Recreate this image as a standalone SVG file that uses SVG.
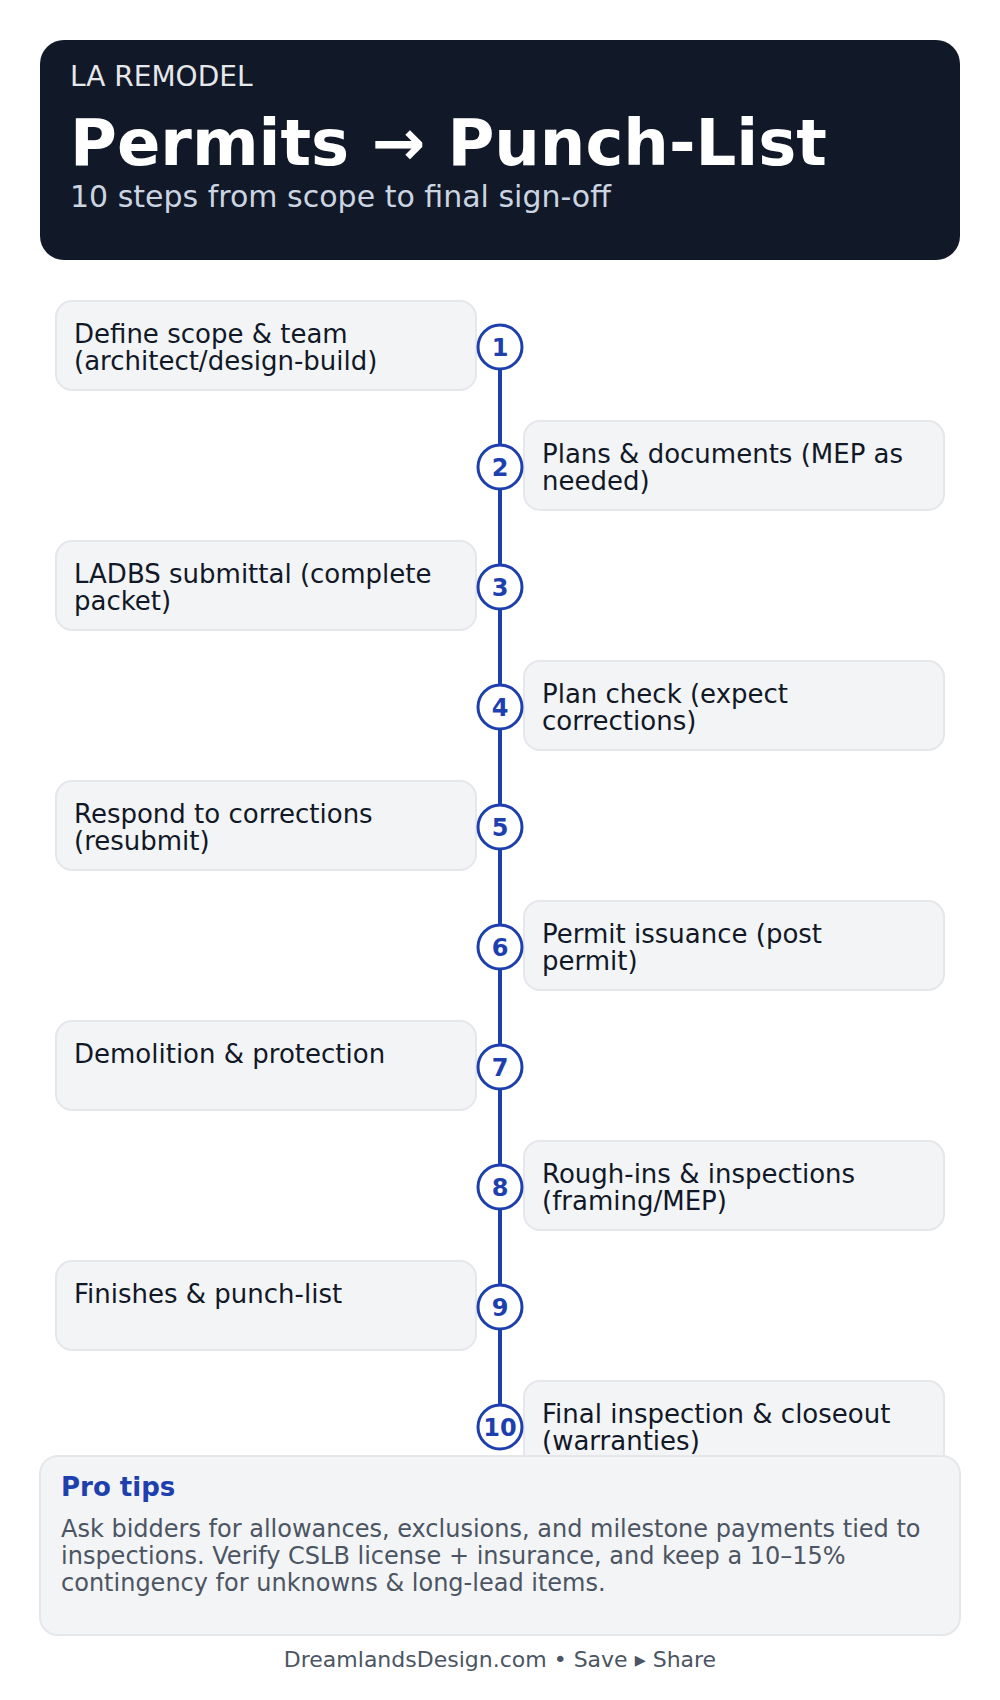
<svg xmlns="http://www.w3.org/2000/svg" width="1000" height="1700" viewBox="0 0 1000 1700">
<style>
text{font-family:"DejaVu Sans","Liberation Sans",sans-serif}
.card{fill:#f3f4f6;stroke:#e5e7eb;stroke-width:2}
.st{font-size:26px;fill:#111827}
.dot{fill:#ffffff;stroke:#1e40af;stroke-width:3}
.num{font-size:24px;font-weight:bold;fill:#1e40af;text-anchor:middle}
.tip{font-size:24px;fill:#4b5563}
</style>
<rect width="1000" height="1700" fill="#ffffff"/>
<g id="header">
<rect x="40" y="40" width="920" height="220" rx="24" fill="#111827"/>
<text x="70" y="86" font-size="28" fill="#e5e7eb">LA REMODEL</text>
<text x="70" y="165" font-size="64" font-weight="bold" fill="#ffffff">Permits → Punch-List</text>
<text x="70" y="207" font-size="30" fill="#cbd5e1">10 steps from scope to final sign-off</text>
</g>
<g id="connectors">
<line x1="500" y1="347" x2="500" y2="1427" stroke="#1e40af" stroke-width="4"/>
</g>
<g id="step1"><rect class="card" x="56" y="301" width="420" height="89" rx="16"/><text class="st" x="74" y="343">Define scope &amp; team</text><text class="st" x="74" y="370">(architect/design-build)</text><circle class="dot" cx="500" cy="347" r="22"/><text class="num" x="500" y="356">1</text></g>
<g id="step2"><rect class="card" x="524" y="421" width="420" height="89" rx="16"/><text class="st" x="542" y="463">Plans &amp; documents (MEP as</text><text class="st" x="542" y="490">needed)</text><circle class="dot" cx="500" cy="467" r="22"/><text class="num" x="500" y="476">2</text></g>
<g id="step3"><rect class="card" x="56" y="541" width="420" height="89" rx="16"/><text class="st" x="74" y="583">LADBS submittal (complete</text><text class="st" x="74" y="610">packet)</text><circle class="dot" cx="500" cy="587" r="22"/><text class="num" x="500" y="596">3</text></g>
<g id="step4"><rect class="card" x="524" y="661" width="420" height="89" rx="16"/><text class="st" x="542" y="703">Plan check (expect</text><text class="st" x="542" y="730">corrections)</text><circle class="dot" cx="500" cy="707" r="22"/><text class="num" x="500" y="716">4</text></g>
<g id="step5"><rect class="card" x="56" y="781" width="420" height="89" rx="16"/><text class="st" x="74" y="823">Respond to corrections</text><text class="st" x="74" y="850">(resubmit)</text><circle class="dot" cx="500" cy="827" r="22"/><text class="num" x="500" y="836">5</text></g>
<g id="step6"><rect class="card" x="524" y="901" width="420" height="89" rx="16"/><text class="st" x="542" y="943">Permit issuance (post</text><text class="st" x="542" y="970">permit)</text><circle class="dot" cx="500" cy="947" r="22"/><text class="num" x="500" y="956">6</text></g>
<g id="step7"><rect class="card" x="56" y="1021" width="420" height="89" rx="16"/><text class="st" x="74" y="1063">Demolition &amp; protection</text><circle class="dot" cx="500" cy="1067" r="22"/><text class="num" x="500" y="1076">7</text></g>
<g id="step8"><rect class="card" x="524" y="1141" width="420" height="89" rx="16"/><text class="st" x="542" y="1183">Rough-ins &amp; inspections</text><text class="st" x="542" y="1210">(framing/MEP)</text><circle class="dot" cx="500" cy="1187" r="22"/><text class="num" x="500" y="1196">8</text></g>
<g id="step9"><rect class="card" x="56" y="1261" width="420" height="89" rx="16"/><text class="st" x="74" y="1303">Finishes &amp; punch-list</text><circle class="dot" cx="500" cy="1307" r="22"/><text class="num" x="500" y="1316">9</text></g>
<g id="step10"><rect class="card" x="524" y="1381" width="420" height="89" rx="16"/><text class="st" x="542" y="1423">Final inspection &amp; closeout</text><text class="st" x="542" y="1450">(warranties)</text><circle class="dot" cx="500" cy="1427" r="22"/><text class="num" x="500" y="1436">10</text></g>
<g id="tips">
<rect x="40" y="1456" width="920" height="179" rx="18" fill="#f3f4f6" stroke="#e5e7eb" stroke-width="2"/>
<text x="61" y="1496" font-size="26" font-weight="bold" fill="#1e40af">Pro tips</text>
<text class="tip" x="61" y="1537">Ask bidders for allowances, exclusions, and milestone payments tied to</text>
<text class="tip" x="61" y="1564">inspections. Verify CSLB license + insurance, and keep a 10–15%</text>
<text class="tip" x="61" y="1591">contingency for unknowns &amp; long-lead items.</text>
</g>
<g id="footer">
<text x="500" y="1667" font-size="22" fill="#4b5563" text-anchor="middle">DreamlandsDesign.com • Save ▸ Share</text>
</g>
</svg>
